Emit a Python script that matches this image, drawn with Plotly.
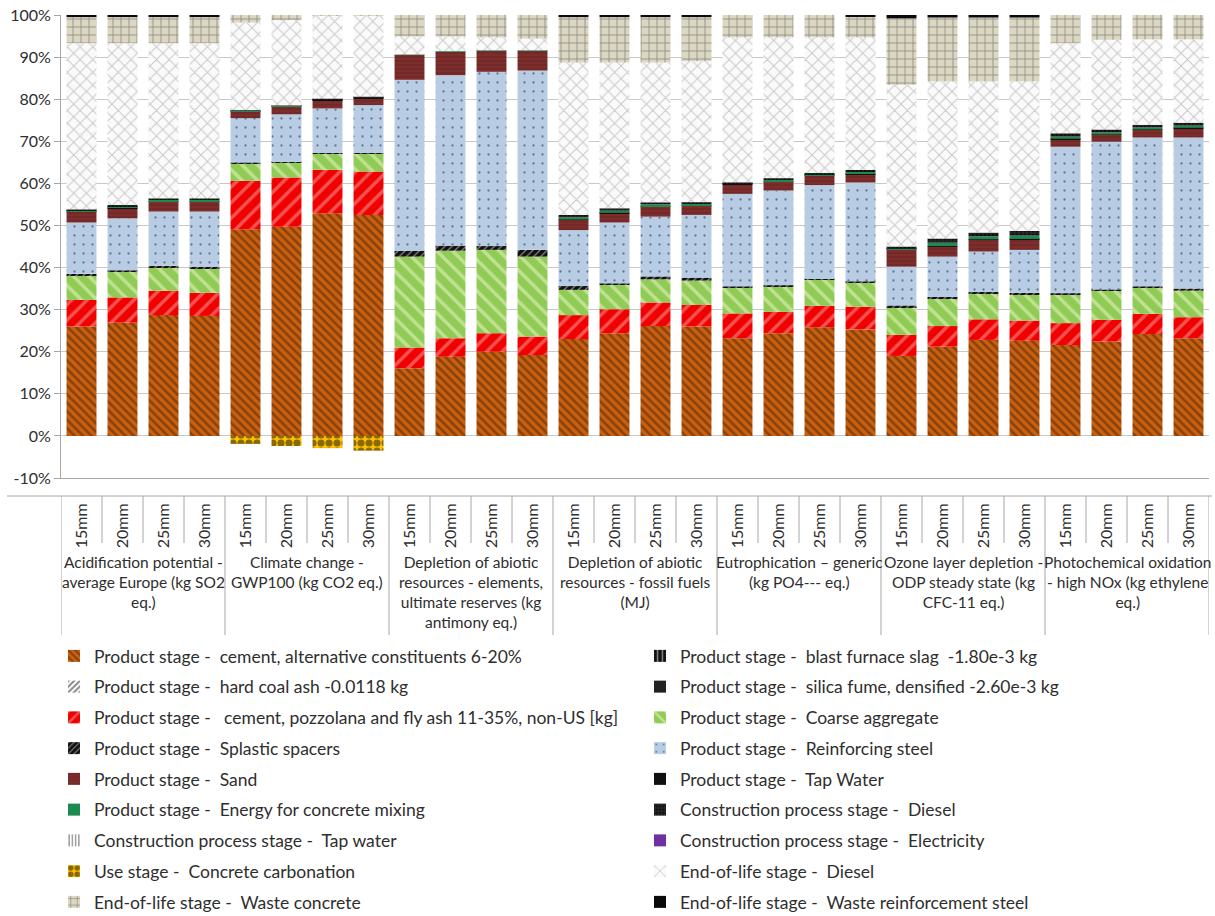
import plotly.graph_objects as go

# Impact categories and slab thickness variants
groups = [
    "Acidification potential -<br>average Europe (kg SO2<br>eq.)",
    "Climate change -<br>GWP100 (kg CO2 eq.)",
    "Depletion of abiotic<br>resources - elements,<br>ultimate reserves (kg<br>antimony eq.)",
    "Depletion of abiotic<br>resources - fossil fuels<br>(MJ)",
    "Eutrophication \u2013 generic<br>(kg PO4--- eq.)",
    "Ozone layer depletion -<br>ODP steady state (kg<br>CFC-11 eq.)",
    "Photochemical oxidation<br>- high NOx (kg ethylene<br>eq.)",
]
sizes = ["15mm", "20mm", "25mm", "30mm"]

# Contribution of each life-cycle process (% of total impact), 7 groups x 4 sizes
cement_alt = [26.0, 26.9, 28.7, 28.5, 49.1, 49.7, 52.9, 52.5, 16.1, 18.8, 20.0, 19.2,
              23.0, 24.4, 26.1, 26.0, 23.2, 24.4, 25.8, 25.3, 19.0, 21.2, 22.8, 22.6,
              21.6, 22.4, 24.2, 23.2]
blast_slag = [0.0] * 28
coal_ash = [0.0] * 28
silica_fume = [0.0] * 28
pozzolana = [6.3, 6.0, 5.8, 5.5, 11.5, 11.7, 10.3, 10.3, 4.9, 4.4, 4.4, 4.4,
             5.7, 5.7, 5.6, 5.1, 5.9, 5.1, 5.1, 5.4, 5.0, 4.9, 4.9, 4.8,
             5.2, 5.2, 4.8, 5.0]
coarse_agg = [5.9, 6.1, 5.5, 5.8, 4.0, 3.5, 3.8, 4.2, 21.6, 20.8, 19.8, 19.0,
              6.0, 5.8, 5.5, 5.8, 6.2, 6.1, 6.2, 5.7, 6.6, 6.6, 6.2, 6.3,
              6.9, 6.9, 6.3, 6.3]
spacers = [0.3, 0.3, 0.4, 0.4, 0.3, 0.2, 0.2, 0.2, 1.4, 1.2, 0.9, 1.6,
           0.9, 0.3, 0.7, 0.7, 0.2, 0.2, 0.2, 0.3, 0.4, 0.3, 0.3, 0.3,
           0.2, 0.2, 0.2, 0.5]
rebar = [12.2, 12.4, 12.9, 13.1, 10.6, 11.3, 10.6, 11.4, 40.6, 40.5, 41.4, 42.6,
         13.3, 14.5, 14.2, 14.9, 22.0, 22.5, 22.3, 23.5, 9.2, 9.6, 9.6, 10.2,
         34.8, 35.2, 35.4, 35.9]
sand = [2.6, 2.4, 2.4, 2.4, 1.5, 1.8, 2.0, 1.6, 5.9, 5.6, 5.0, 4.7,
        2.4, 2.2, 2.4, 2.2, 2.3, 2.1, 2.2, 2.0, 4.0, 2.4, 2.8, 2.5,
        1.8, 1.6, 1.8, 2.2]
tap_water = [0.1, 0.1, 0.1, 0.1, 0.1, 0.1, 0.1, 0.1, 0.0, 0.0, 0.0, 0.0,
             0.1, 0.1, 0.1, 0.1, 0.1, 0.1, 0.1, 0.1, 0.1, 0.1, 0.1, 0.1,
             0.1, 0.1, 0.1, 0.1]
mixing_energy = [0.2, 0.3, 0.3, 0.3, 0.2, 0.1, 0.1, 0.2, 0.1, 0.1, 0.1, 0.1,
                 0.5, 0.5, 0.4, 0.3, 0.1, 0.3, 0.3, 0.4, 0.3, 0.8, 0.7, 0.8,
                 0.5, 0.5, 0.5, 0.5]
constr_diesel = [0.2, 0.4, 0.3, 0.3, 0.1, 0.1, 0.1, 0.1, 0.0, 0.0, 0.0, 0.0,
                 0.6, 0.6, 0.5, 0.4, 0.2, 0.4, 0.3, 0.5, 0.4, 1.0, 0.9, 1.1,
                 0.8, 0.7, 0.6, 0.7]
constr_tap_water = [0.0] * 28
constr_electricity = [0.0] * 28
carbonation = [0.0, 0.0, 0.0, 0.0, -1.9, -2.4, -2.9, -3.5, 0.0, 0.0, 0.0, 0.0,
               0.0, 0.0, 0.0, 0.0, 0.0, 0.0, 0.0, 0.0, 0.0, 0.0, 0.0, 0.0,
               0.0, 0.0, 0.0, 0.0]
eol_diesel = [39.5, 38.4, 36.9, 36.9, 20.8, 20.3, 19.7, 19.3, 4.3, 3.5, 3.1, 2.8,
              36.2, 34.6, 33.2, 33.5, 34.5, 33.5, 32.2, 31.5, 38.4, 37.3, 35.9, 35.5,
              21.4, 21.3, 20.3, 19.8]
waste_concrete = [6.2, 6.2, 6.2, 6.2, 1.8, 1.2, 0.2, 0.1, 5.1, 5.1, 5.3, 5.6,
                  10.8, 10.8, 10.8, 10.5, 5.3, 5.3, 5.3, 4.9, 15.8, 15.2, 15.2, 15.2,
                  6.7, 5.9, 5.8, 5.8]
waste_steel = [0.5, 0.5, 0.5, 0.5, 0.0, 0.0, 0.0, 0.0, 0.0, 0.0, 0.0, 0.0,
               0.5, 0.5, 0.5, 0.5, 0.0, 0.0, 0.0, 0.4, 0.8, 0.6, 0.6, 0.6,
               0.0, 0.0, 0.0, 0.0]

y_ticks = [-10, 0, 10, 20, 30, 40, 50, 60, 70, 80, 90, 100]

# name, values, background colour, pattern shape, pattern colour, pattern size, solidity
series = [
    ("Product stage -\u00a0 cement, alternative constituents 6-20%", cement_alt, "#C8600F", "\\", "#4A2208", 6, 0.42),
    ("Product stage -\u00a0 blast furnace slag\u00a0 -1.80e-3 kg", blast_slag, "#111111", "|", "#FFFFFF", 6, 0.3),
    ("Product stage -\u00a0 hard coal ash -0.0118 kg", coal_ash, "#FFFFFF", "/", "#111111", 5, 0.5),
    ("Product stage -\u00a0 silica fume, densified -2.60e-3 kg", silica_fume, "#222222", "", "#222222", 8, 0.3),
    ("Product stage -\u00a0\u00a0 cement, pozzolana and fly ash 11-35%, non-US [kg]", pozzolana, "#F00000", "/", "#F5A5A0", 11, 0.32),
    ("Product stage -\u00a0 Coarse aggregate", coarse_agg, "#8FCB55", "\\", "#F4F8D0", 11, 0.32),
    ("Product stage -\u00a0 Splastic spacers", spacers, "#111111", "/", "#FFFFFF", 5, 0.25),
    ("Product stage -\u00a0 Reinforcing steel", rebar, "#B8CCE4", ".", "#10203F", 9, 0.05),
    ("Product stage -\u00a0 Sand", sand, "#7D2E2C", "-", "#5A1C1C", 4, 0.3),
    ("Product stage -\u00a0 Tap Water", tap_water, "#111111", "", "#111111", 8, 0.3),
    ("Product stage -\u00a0 Energy for concrete mixing", mixing_energy, "#1D8A50", "", "#1D8A50", 8, 0.3),
    ("Construction process stage -\u00a0 Diesel", constr_diesel, "#111111", "+", "#666666", 4, 0.3),
    ("Construction process stage -\u00a0 Tap water", constr_tap_water, "#FFFFFF", "|", "#111111", 4, 0.4),
    ("Construction process stage -\u00a0 Electricity", constr_electricity, "#7030A0", "", "#7030A0", 8, 0.3),
    ("Use stage -\u00a0 Concrete carbonation", carbonation, "#FFC000", ".", "#111111", 8, 0.62),
    ("End-of-life stage -\u00a0 Diesel", eol_diesel, "#FAFAFA", "x", "#9C9C9C", 9, 0.22),
    ("End-of-life stage -\u00a0 Waste concrete", waste_concrete, "#DCD7C2", "+", "#404040", 8, 0.2),
    ("End-of-life stage -\u00a0 Waste reinforcement steel", waste_steel, "#0A0A0A", "", "#0A0A0A", 8, 0.3),
]

bar_labels = [s for _ in groups for s in sizes]
x_pos = list(range(len(bar_labels)))
n_sub = len(sizes)

FONT = "Lato"
TEXT = "#2E2E2E"
LINE = "#A6A6A6"

fig = go.Figure()
for i, (name, vals, bg, shape, fg, psize, solid) in enumerate(series):
    fig.add_trace(go.Bar(
        x=x_pos, y=vals, name=name,
        legend="legend" if i % 2 == 0 else "legend2",
        legendgroup=f"s{i}",
        marker=dict(color=bg, line=dict(width=0),
                    pattern=dict(shape=shape, fgcolor=fg, bgcolor=bg,
                                 size=psize, solidity=solid)),
        hovertemplate="%{y:.1f}%<extra>" + name + "</extra>",
    ))

# plot area geometry in pixels, used to express label positions in paper units
W, H = 1215, 916
ML, MR, MT, MB = 61, 6, 15, 438
plot_h = H - MT - MB
plot_w = W - ML - MR


def py(pix):
    """pixel row -> paper y"""
    return (H - MB - pix) / plot_h


def px(pix):
    return (pix - ML) / plot_w


shapes = []
# top rule of the category table
shapes.append(dict(type="line", xref="paper", yref="paper", x0=px(7), x1=px(1212),
                   y0=py(496), y1=py(496), line=dict(color=LINE, width=1)))
for k in range(len(bar_labels) + 1):
    xb = k - 0.5
    if k % n_sub == 0:
        y_end = py(635)
    else:
        y_end = py(543)
    shapes.append(dict(type="line", xref="x", yref="paper", x0=xb, x1=xb,
                       y0=py(496), y1=y_end, line=dict(color=LINE, width=1)))

annotations = []
for g, label in enumerate(groups):
    annotations.append(dict(
        x=g * n_sub + (n_sub - 1) / 2, xref="x", y=py(551), yref="paper",
        yanchor="top", xanchor="center", text=label, showarrow=False,
        font=dict(family=FONT, size=15.5, color=TEXT), align="center"))

legend_font = dict(family=FONT, size=17.5, color=TEXT)
fig.update_layout(
    width=W, height=H,
    margin=dict(l=ML, r=MR, t=MT, b=MB, autoexpand=False),
    paper_bgcolor="white", plot_bgcolor="white",
    barmode="relative", bargap=0.27,
    font=dict(family=FONT, size=16, color=TEXT),
    shapes=shapes, annotations=annotations,
    showlegend=True,
    legend=dict(orientation="v", x=px(54), xanchor="left", y=py(638), yanchor="top",
                traceorder="grouped", tracegroupgap=5,
                font=legend_font, bgcolor="rgba(0,0,0,0)"),
    legend2=dict(orientation="v", x=px(640), xanchor="left", y=py(638), yanchor="top",
                 traceorder="grouped", tracegroupgap=5,
                 font=legend_font, bgcolor="rgba(0,0,0,0)"),
)

fig.update_xaxes(
    range=[-0.5, len(bar_labels) - 0.5], automargin=False,
    tickmode="array", tickvals=x_pos, ticktext=bar_labels, tickangle=-90,
    ticks="", ticklabelstandoff=18,
    tickfont=dict(family=FONT, size=16, color=TEXT),
    showline=True, linecolor=LINE, linewidth=1,
    showgrid=False, zeroline=False,
)
fig.update_yaxes(
    range=[-10, 100], automargin=False, tickmode="array", tickvals=y_ticks,
    ticktext=[f"{v}%" for v in y_ticks],
    ticks="outside", ticklen=6, tickcolor=LINE,
    tickfont=dict(family=FONT, size=16, color=TEXT),
    showline=True, linecolor=LINE, linewidth=1,
    showgrid=True, gridcolor="#C8C8C8", gridwidth=1, zeroline=False,
)

fig.write_html("out.html")
